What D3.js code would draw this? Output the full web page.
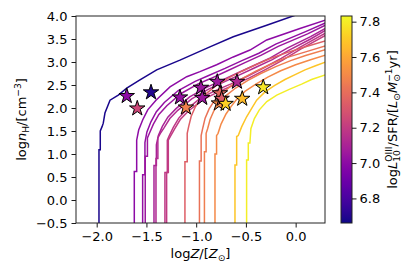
<!DOCTYPE html>
<html>
<head>
<meta charset="utf-8">
<script src="https://cdn.jsdelivr.net/npm/d3@7"></script>
<style>
  body { margin: 0; background: #fff; }
  svg { display: block; font-family: "DejaVu Sans", sans-serif; }
</style>
</head>
<body>
<script>
// contour lines, [logZ, log n_H]
const lineBlue = [[-1.977,-0.5],[-1.977,1.09],[-1.964,1.09],[-1.964,1.50],[-1.945,1.60],[-1.934,1.67],[-1.917,1.89],[-1.866,2.17],[-1.783,2.28],[-1.698,2.43],[-1.565,2.61],[-1.397,2.83],[-1.163,3.04],[-0.862,3.33],[-0.627,3.55],[-0.291,3.80],[0.0,4.02]];
const linePurple1 = [[-1.622,-0.5],[-1.622,0.62],[-1.598,0.62],[-1.598,1.30],[-1.578,1.52],[-1.538,1.74],[-1.487,1.96],[-1.404,2.17],[-1.263,2.46],[-1.095,2.68],[-0.962,2.79],[-0.794,2.94],[-0.627,3.11],[-0.459,3.26],[-0.291,3.48],[0.043,3.73],[0.30,3.91]];
const linePurple2 = [[-1.538,-0.5],[-1.538,0.55],[-1.515,0.55],[-1.515,1.25],[-1.495,1.48],[-1.455,1.70],[-1.40,1.92],[-1.32,2.12],[-1.18,2.38],[-1.01,2.58],[-0.88,2.70],[-0.71,2.86],[-0.54,3.03],[-0.37,3.19],[-0.20,3.39],[0.10,3.66],[0.30,3.85]];
const linePurple3 = [[-1.512,-0.5],[-1.512,0.95],[-1.49,0.95],[-1.49,1.35],[-1.47,1.45],[-1.43,1.65],[-1.375,1.86],[-1.295,2.05],[-1.155,2.31],[-0.985,2.52],[-0.855,2.64],[-0.685,2.81],[-0.515,2.98],[-0.345,3.15],[-0.175,3.34],[0.12,3.61],[0.30,3.80]];
const lineMagenta1 = [[-1.424,-0.5],[-1.424,0.75],[-1.40,0.75],[-1.40,1.20],[-1.38,1.40],[-1.34,1.60],[-1.285,1.80],[-1.205,1.98],[-1.065,2.24],[-0.895,2.45],[-0.765,2.58],[-0.595,2.75],[-0.425,2.92],[-0.255,3.09],[-0.085,3.30],[0.15,3.55],[0.30,3.73]];
const lineMagenta2 = [[-1.404,-0.5],[-1.404,0.90],[-1.385,0.90],[-1.385,1.35],[-1.36,1.45],[-1.32,1.58],[-1.265,1.77],[-1.185,1.95],[-1.045,2.20],[-0.875,2.41],[-0.745,2.54],[-0.575,2.71],[-0.405,2.88],[-0.235,3.05],[-0.065,3.26],[0.15,3.50],[0.30,3.69]];
const linePink1 = [[-1.314,-0.5],[-1.314,0.60],[-1.29,0.60],[-1.29,1.30],[-1.27,1.40],[-1.23,1.58],[-1.175,1.78],[-1.095,1.97],[-0.955,2.22],[-0.785,2.40],[-0.655,2.52],[-0.485,2.69],[-0.315,2.88],[-0.145,3.08],[0.05,3.33],[0.30,3.63]];
const linePink2 = [[-1.297,-0.5],[-1.297,0.60],[-1.28,0.60],[-1.28,1.30],[-1.255,1.40],[-1.215,1.55],[-1.16,1.75],[-1.08,1.93],[-0.94,2.17],[-0.77,2.36],[-0.64,2.48],[-0.47,2.65],[-0.30,2.84],[-0.13,3.04],[0.05,3.28],[0.30,3.58]];
const lineSalmon = [[-1.113,-0.5],[-1.113,0.83],[-1.09,0.83],[-1.09,1.45],[-1.075,1.60],[-1.05,1.82],[-1.01,2.02],[-0.96,2.18],[-0.89,2.33],[-0.79,2.50],[-0.67,2.66],[-0.54,2.80],[-0.40,2.94],[-0.25,3.08],[-0.08,3.21],[0.10,3.33],[0.30,3.46]];
const lineOrange1 = [[-0.967,-0.5],[-0.967,0.85],[-0.95,0.85],[-0.95,1.40],[-0.935,1.55],[-0.91,1.78],[-0.87,1.98],[-0.82,2.15],[-0.75,2.30],[-0.65,2.48],[-0.53,2.65],[-0.40,2.80],[-0.25,2.95],[-0.10,3.09],[0.10,3.22],[0.30,3.35]];
const lineOrange2 = [[-0.917,-0.5],[-0.917,1.05],[-0.90,1.05],[-0.90,1.45],[-0.885,1.55],[-0.86,1.75],[-0.82,1.95],[-0.77,2.12],[-0.70,2.27],[-0.60,2.44],[-0.48,2.60],[-0.35,2.75],[-0.20,2.90],[-0.05,3.03],[0.10,3.14],[0.30,3.27]];
const lineOrange3 = [[-0.811,-0.5],[-0.811,1.00],[-0.795,1.00],[-0.795,1.40],[-0.78,1.45],[-0.75,1.65],[-0.70,1.87],[-0.65,2.03],[-0.60,2.17],[-0.51,2.36],[-0.40,2.52],[-0.28,2.67],[-0.15,2.81],[0.0,2.94],[0.15,3.05],[0.30,3.15]];
const lineGold = [[-0.61,-0.5],[-0.61,0.76],[-0.593,0.76],[-0.593,1.38],[-0.577,1.40],[-0.543,1.59],[-0.493,1.81],[-0.442,1.99],[-0.392,2.17],[-0.308,2.35],[-0.21,2.49],[-0.107,2.62],[0.0,2.73],[0.094,2.83],[0.20,2.92],[0.30,3.0]];
const lineYellow = [[-0.493,-0.5],[-0.493,0.87],[-0.476,0.87],[-0.476,1.24],[-0.46,1.24],[-0.45,1.55],[-0.415,1.77],[-0.365,1.96],[-0.29,2.14],[-0.19,2.28],[-0.07,2.40],[0.06,2.52],[0.16,2.62],[0.30,2.72]];

const contourLines = [lineBlue, linePurple1, linePurple2, linePurple3, lineMagenta1, lineMagenta2,
    linePink1, linePink2, lineSalmon, lineOrange1, lineOrange2, lineOrange3, lineGold, lineYellow];
const contourValues = [6.68, 7.00, 7.02, 7.05, 7.10, 7.13, 7.18, 7.20, 7.34, 7.42, 7.46, 7.50, 7.69, 7.80];

// stars (galaxies)
const starZ = [-1.698, -1.592, -1.454, -1.163, -1.103, -0.952, -0.939, -0.788, -0.771, -0.761, -0.744, -0.704, -0.59, -0.537, -0.326];
const starN = [2.26, 1.99, 2.34, 2.23, 2.01, 2.44, 2.22, 2.57, 2.10, 2.32, 2.20, 2.09, 2.57, 2.20, 2.45];
const starV = [7.00, 7.25, 6.70, 7.03, 7.47, 7.05, 7.05, 7.05, 7.50, 7.38, 7.33, 7.72, 7.12, 7.66, 7.78];

const xTicks = [-2.0, -1.5, -1.0, -0.5, 0.0];
const yTicks = [-0.5, 0.0, 0.5, 1.0, 1.5, 2.0, 2.5, 3.0, 3.5, 4.0];
const cbarTicks = [6.8, 7.0, 7.2, 7.4, 7.6, 7.8];

const svgWidth = 415;
const svgHeight = 277;
const plot = {left: 76, top: 16, right: 325, bottom: 223};
const cbar = {left: 341, width: 11};
const fontSize = 13;

window.onload = main;

function main() {
    const svg = d3.select("body").append("svg")
        .attr("width", svgWidth)
        .attr("height", svgHeight);

    const scaleX = d3.scaleLinear().domain([-2.208, 0.295]).range([plot.left, plot.right]);
    const scaleY = d3.scaleLinear().domain([-0.5, 4.0]).range([plot.bottom, plot.top]);
    const color = d3.scaleSequential(d3.interpolatePlasma).domain([6.661, 7.832]);

    svg.append("clipPath").attr("id", "plotclip")
        .append("rect")
        .attr("x", plot.left).attr("y", plot.top)
        .attr("width", plot.right - plot.left).attr("height", plot.bottom - plot.top);

    const line = d3.line().x(d => scaleX(d[0])).y(d => scaleY(d[1]));

    svg.append("g").attr("clip-path", "url(#plotclip)")
        .selectAll("path")
        .data(contourLines)
        .join("path")
        .attr("fill", "none")
        .attr("stroke", (d, i) => color(contourValues[i]))
        .attr("stroke-width", 1.5)
        .attr("d", line);

    const stars = starZ.map((z, i) => ({z: z, n: starN[i], v: starV[i]}));
    svg.append("g")
        .selectAll("path")
        .data(stars)
        .join("path")
        .attr("transform", d => `translate(${scaleX(d.z)},${scaleY(d.n)})`)
        .attr("d", d3.symbol(d3.symbolStar).size(74))
        .attr("fill", d => color(d.v))
        .attr("stroke", "black")
        .attr("stroke-width", 1);

    drawAxes(svg, scaleX, scaleY);
    drawColorbar(svg, color);
}

function drawAxes(svg, scaleX, scaleY) {
    const xAxis = svg.append("g")
        .attr("transform", `translate(0,${plot.bottom})`)
        .call(d3.axisBottom(scaleX).tickValues(xTicks).tickSize(4.5).tickPadding(4)
            .tickFormat(d => d3.format(".1f")(d).replace("-", "\u2212")));
    const yAxis = svg.append("g")
        .attr("transform", `translate(${plot.left},0)`)
        .call(d3.axisLeft(scaleY).tickValues(yTicks).tickSize(4.5).tickPadding(4)
            .tickFormat(d => d3.format(".1f")(d).replace("-", "\u2212")));
    [xAxis, yAxis].forEach(a => {
        a.select(".domain").remove();
        a.selectAll("text").attr("font-size", fontSize).attr("fill", "black")
            .attr("font-family", "DejaVu Sans");
        a.selectAll("line").attr("stroke", "black").attr("stroke-width", 0.9);
    });

    // frame
    svg.append("rect")
        .attr("x", plot.left).attr("y", plot.top)
        .attr("width", plot.right - plot.left).attr("height", plot.bottom - plot.top)
        .attr("fill", "none").attr("stroke", "#222").attr("stroke-width", 1);

    const xLabel = svg.append("text")
        .attr("x", (plot.left + plot.right) / 2).attr("y", 258)
        .attr("text-anchor", "middle").attr("font-size", fontSize);
    mathText(xLabel, [{t: "log"}, {t: "Z", i: true}, {t: "/["}, {t: "Z", i: true}, {t: "\u2299", off: -3}, {t: "]"}]);

    const yLabel = svg.append("text")
        .attr("transform", `translate(26,${(plot.top + plot.bottom) / 2}) rotate(-90)`)
        .attr("text-anchor", "middle").attr("font-size", fontSize);
    mathText(yLabel, [{t: "log"}, {t: "n", i: true}, {t: "H", off: -3}, {t: "/[cm"}, {t: "\u22123", off: 5}, {t: "]"}]);
}

function drawColorbar(svg, color) {
    const scaleC = d3.scaleLinear().domain(color.domain()).range([plot.bottom, plot.top]);

    const grad = svg.append("defs").append("linearGradient")
        .attr("id", "cbgrad").attr("x1", 0).attr("y1", 1).attr("x2", 0).attr("y2", 0);
    grad.selectAll("stop")
        .data(d3.range(0, 1.0001, 0.02))
        .join("stop")
        .attr("offset", d => d)
        .attr("stop-color", d => d3.interpolatePlasma(d));

    svg.append("rect")
        .attr("x", cbar.left).attr("y", plot.top)
        .attr("width", cbar.width).attr("height", plot.bottom - plot.top)
        .attr("fill", "url(#cbgrad)")
        .attr("stroke", "#222").attr("stroke-width", 1);

    const cAxis = svg.append("g")
        .attr("transform", `translate(${cbar.left + cbar.width},0)`)
        .call(d3.axisRight(scaleC).tickValues(cbarTicks).tickSize(4.5).tickPadding(3)
            .tickFormat(d3.format(".1f")));
    cAxis.select(".domain").remove();
    cAxis.selectAll("text").attr("font-size", fontSize).attr("fill", "black")
        .attr("font-family", "DejaVu Sans");
    cAxis.selectAll("line").attr("stroke", "black").attr("stroke-width", 0.9);

    const cLabel = svg.append("text")
        .attr("transform", `translate(397,${(plot.top + plot.bottom) / 2}) rotate(-90)`)
        .attr("text-anchor", "middle").attr("font-size", fontSize);
    mathText(cLabel, [{t: "log"}, {t: "L", i: true}, {t: "10", off: -3}, {t: "OIII", off: 5, back: true},
        {t: "/SFR/["}, {t: "L", i: true}, {t: "\u2299", off: -3}, {t: "M", i: true}, {t: "\u2299", off: -3},
        {t: "\u22121", off: 5, back: true}, {t: "yr]"}]);
}

// small helper for sub/superscripts: off = baseline shift in px (up positive)
function mathText(textSel, parts) {
    let cur = 0;
    let prev = null;
    parts.forEach(p => {
        const off = p.off || 0;
        const ts = textSel.append("tspan")
            .text(p.t)
            .attr("dy", cur - off);
        if (off !== 0) ts.attr("font-size", fontSize * 0.7);
        if (p.i) ts.attr("font-style", "italic");
        if (p.back && prev) ts.attr("dx", -prev.node().getComputedTextLength());
        cur = off;
        prev = ts;
    });
}
</script>
</body>
</html>
